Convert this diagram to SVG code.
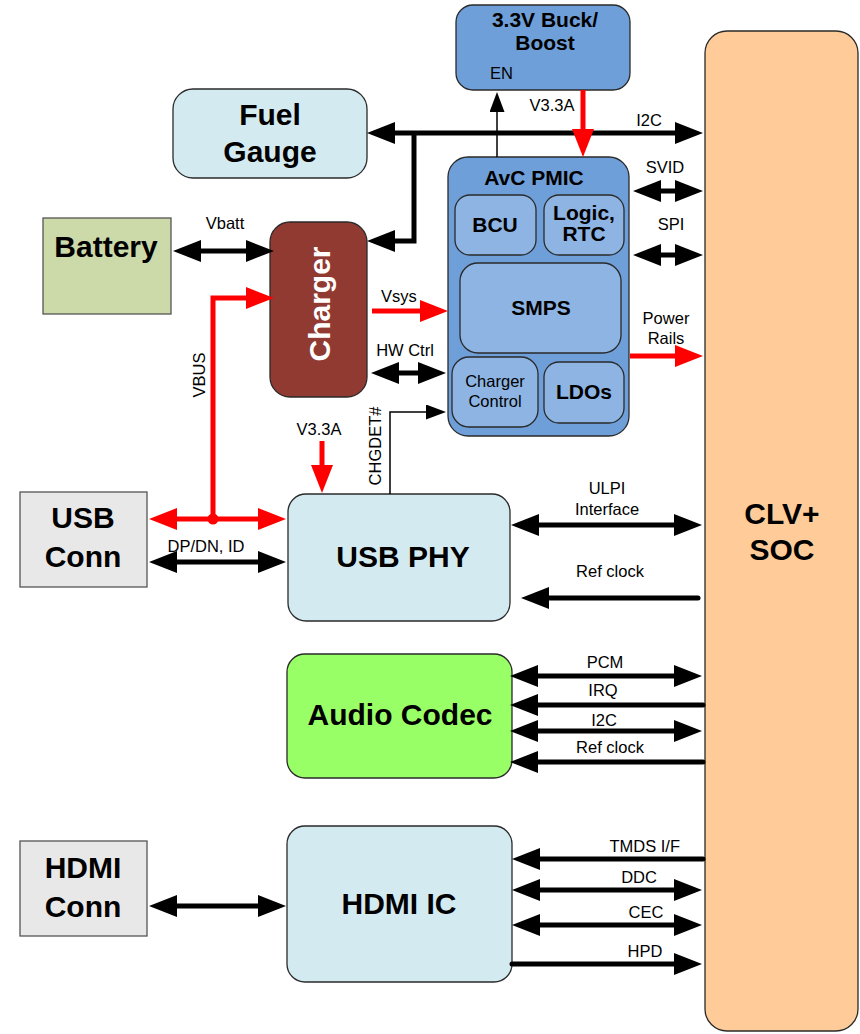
<svg xmlns="http://www.w3.org/2000/svg" width="860" height="1034" viewBox="0 0 860 1034">
<defs>
<style>
.box{stroke:#2a2a2a;stroke-width:1.3}
.sq{stroke:#555;stroke-width:1.3}
.big{font-family:"Liberation Sans",Arial,sans-serif;font-weight:bold;font-size:30px;fill:#000;text-anchor:middle}
.mid{font-family:"Liberation Sans",Arial,sans-serif;font-weight:bold;font-size:21px;fill:#000;text-anchor:middle}
.lbl{font-family:"Liberation Sans",Arial,sans-serif;font-size:16.5px;fill:#000;text-anchor:middle}
.bk{fill:none;stroke:#000;stroke-width:5}
.rd{fill:none;stroke:#ff0000;stroke-width:5}
.th{fill:none;stroke:#000;stroke-width:1.5}
</style>
<marker id="ah" markerUnits="userSpaceOnUse" markerWidth="28" markerHeight="22" refX="13" refY="11" orient="auto-start-reverse" viewBox="0 0 28 22"><path d="M0,0 L28,11 L0,22 Z" fill="#000"/></marker>
<marker id="ahr" markerUnits="userSpaceOnUse" markerWidth="28" markerHeight="22" refX="13" refY="11" orient="auto-start-reverse" viewBox="0 0 28 22"><path d="M0,0 L28,11 L0,22 Z" fill="#ff0000"/></marker>
<marker id="as" markerUnits="userSpaceOnUse" markerWidth="20" markerHeight="15" refX="10" refY="7.5" orient="auto-start-reverse" viewBox="0 0 20 15"><path d="M0,0 L20,7.5 L0,15 Z" fill="#000"/></marker>
</defs>
<rect width="860" height="1034" fill="#fff"/>

<g id="soc"><rect class="box" x="705" y="31" width="153" height="1000" rx="22" fill="#ffcc99"/>
<text class="big" x="782" y="524" font-size="31">CLV+</text><text class="big" x="782" y="560" font-size="31">SOC</text></g>

<g id="buck"><rect class="box" x="456" y="5" width="174" height="85" rx="17" fill="#6f9fd9"/>
<text class="mid" x="545" y="27" font-size="18">3.3V Buck/</text><text class="mid" x="545" y="50" font-size="18">Boost</text>
<text class="lbl" x="490" y="79" style="text-anchor:start" font-size="16">EN</text></g>

<g id="fuel"><rect class="box" x="173" y="89" width="194" height="89" rx="20" fill="#d3eaf0"/>
<text class="big" x="270" y="125">Fuel</text><text class="big" x="270" y="162">Gauge</text></g>

<g id="battery"><rect class="sq" x="43" y="218" width="128" height="96" fill="#ccdaaa"/>
<text class="big" x="106" y="257">Battery</text></g>

<g id="charger"><rect class="box" x="270" y="222" width="97" height="175" rx="20" fill="#903a32"/>
<text class="big" transform="translate(330,304) rotate(-90)" fill="#fff" style="fill:#fff" font-size="31">Charger</text></g>

<g id="pmic"><rect class="box" x="448" y="157" width="181" height="279" rx="20" fill="#6f9fd9"/>
<text class="mid" x="534" y="185">AvC PMIC</text>
<g id="bcu"><rect class="box" x="455" y="195" width="81" height="60" rx="15" fill="#8db4e3"/><text class="mid" x="495" y="232" font-size="22">BCU</text></g>
<g id="logic"><rect class="box" x="544" y="195" width="80" height="60" rx="15" fill="#8db4e3"/><text class="mid" x="584" y="220" font-size="17">Logic,</text><text class="mid" x="584" y="241" font-size="17">RTC</text></g>
<g id="smps"><rect class="box" x="460" y="263" width="161" height="90" rx="18" fill="#8db4e3"/><text class="mid" x="541" y="315" font-size="22">SMPS</text></g>
<g id="chgctl"><rect class="box" x="452" y="357" width="86" height="70" rx="17" fill="#8db4e3"/><text class="lbl" x="495" y="387">Charger</text><text class="lbl" x="495" y="407">Control</text></g>
<g id="ldos"><rect class="box" x="544" y="362" width="80" height="61" rx="15" fill="#8db4e3"/><text class="mid" x="584" y="399" font-size="22">LDOs</text></g>
</g>

<g id="usbconn"><rect class="sq" x="20" y="492" width="127" height="95" fill="#e8e8e8"/>
<text class="big" x="83" y="528">USB</text><text class="big" x="83" y="567">Conn</text></g>

<g id="usbphy"><rect class="box" x="288" y="494" width="222" height="127" rx="18" fill="#d3eaf0"/>
<text class="big" x="403" y="567" font-size="31">USB PHY</text></g>

<g id="audio"><rect class="box" x="287" y="654" width="225" height="124" rx="18" fill="#99ff66"/>
<text class="big" x="400" y="725" font-size="31">Audio Codec</text></g>

<g id="hdmiconn"><rect class="sq" x="20" y="841" width="127" height="95" fill="#e8e8e8"/>
<text class="big" x="83" y="878">HDMI</text><text class="big" x="83" y="917">Conn</text></g>

<g id="hdmiic"><rect class="box" x="287" y="826" width="225" height="156" rx="18" fill="#d3eaf0"/>
<text class="big" x="399" y="914" font-size="31">HDMI IC</text></g>

<g id="connectors">
<path class="bk" d="M382,133 L688,133" marker-start="url(#ah)" marker-end="url(#ah)"/>
<path class="bk" d="M414,133 L414,241 L382,241" marker-end="url(#ah)"/>
<path class="bk" d="M648,191 L688,191" marker-start="url(#ah)" marker-end="url(#ah)"/>
<path class="bk" d="M648,255 L688,255" marker-start="url(#ah)" marker-end="url(#ah)"/>
<path class="bk" d="M386,373 L431,373" marker-start="url(#ah)" marker-end="url(#ah)"/>
<path class="bk" d="M188,251 L259,251" marker-start="url(#ah)" marker-end="url(#ah)"/>
<path class="bk" d="M164,562 L271,562" marker-start="url(#ah)" marker-end="url(#ah)"/>
<path class="bk" d="M526,525 L687,525" marker-start="url(#ah)" marker-end="url(#ah)"/>
<path class="bk" d="M698,598 L536,598" stroke-linecap="round" marker-end="url(#ah)"/>
<path class="bk" d="M525,676 L687,676" marker-start="url(#ah)" marker-end="url(#ah)"/>
<path class="bk" d="M703,705 L525,705" stroke-linecap="round" marker-end="url(#ah)"/>
<path class="bk" d="M525,731 L687,731" marker-start="url(#ah)" marker-end="url(#ah)"/>
<path class="bk" d="M703,762 L525,762" stroke-linecap="round" marker-end="url(#ah)"/>
<path class="bk" d="M703,859 L527,859" stroke-linecap="round" marker-end="url(#ah)"/>
<path class="bk" d="M527,890 L687,890" marker-start="url(#ah)" marker-end="url(#ah)"/>
<path class="bk" d="M527,925 L687,925" marker-start="url(#ah)" marker-end="url(#ah)"/>
<path class="bk" d="M512,964 L687,964" stroke-linecap="round" marker-end="url(#ah)"/>
<path class="bk" d="M164,906 L271,906" marker-start="url(#ah)" marker-end="url(#ah)"/>
<path class="rd" d="M583,90 L583,142" marker-end="url(#ahr)"/>
<path class="rd" d="M372,311 L433,311" marker-end="url(#ahr)"/>
<path class="rd" d="M630,356 L688,356" marker-end="url(#ahr)"/>
<path class="rd" d="M213,519 L213,298 L259,298" marker-end="url(#ahr)"/>
<path class="rd" d="M164,519 L271,519" marker-start="url(#ahr)" marker-end="url(#ahr)"/>
<path class="rd" d="M322,441 L322,478" marker-end="url(#ahr)"/>
<circle cx="213" cy="519" r="5.5" fill="#ff0000"/>
<path class="th" d="M497,157 L497,102" marker-end="url(#as)"/>
<path class="th" d="M390,494 L390,412 L436,412" marker-end="url(#as)"/>
<text class="lbl" x="649" y="126">I2C</text>
<text class="lbl" x="552" y="111" font-size="15">V3.3A</text>
<text class="lbl" x="665" y="173">SVID</text>
<text class="lbl" x="671" y="230">SPI</text>
<text class="lbl" x="666" y="324">Power</text>
<text class="lbl" x="666" y="344">Rails</text>
<text class="lbl" x="399" y="302">Vsys</text>
<text class="lbl" x="405" y="356">HW Ctrl</text>
<text class="lbl" x="225" y="229">Vbatt</text>
<text class="lbl" x="206" y="552">DP/DN, ID</text>
<text class="lbl" x="319" y="435">V3.3A</text>
<text class="lbl" transform="translate(381,446) rotate(-90)">CHGDET#</text>
<text class="lbl" transform="translate(205,375) rotate(-90)">VBUS</text>
<text class="lbl" x="607" y="494">ULPI</text>
<text class="lbl" x="607" y="515">Interface</text>
<text class="lbl" x="610" y="577">Ref clock</text>
<text class="lbl" x="605" y="668">PCM</text>
<text class="lbl" x="603" y="696">IRQ</text>
<text class="lbl" x="604" y="726">I2C</text>
<text class="lbl" x="610" y="753">Ref clock</text>
<text class="lbl" x="680" y="852" style="text-anchor:end">TMDS I/F</text>
<text class="lbl" x="639" y="883">DDC</text>
<text class="lbl" x="646" y="918">CEC</text>
<text class="lbl" x="645" y="957">HPD</text>
</g>
</svg>
